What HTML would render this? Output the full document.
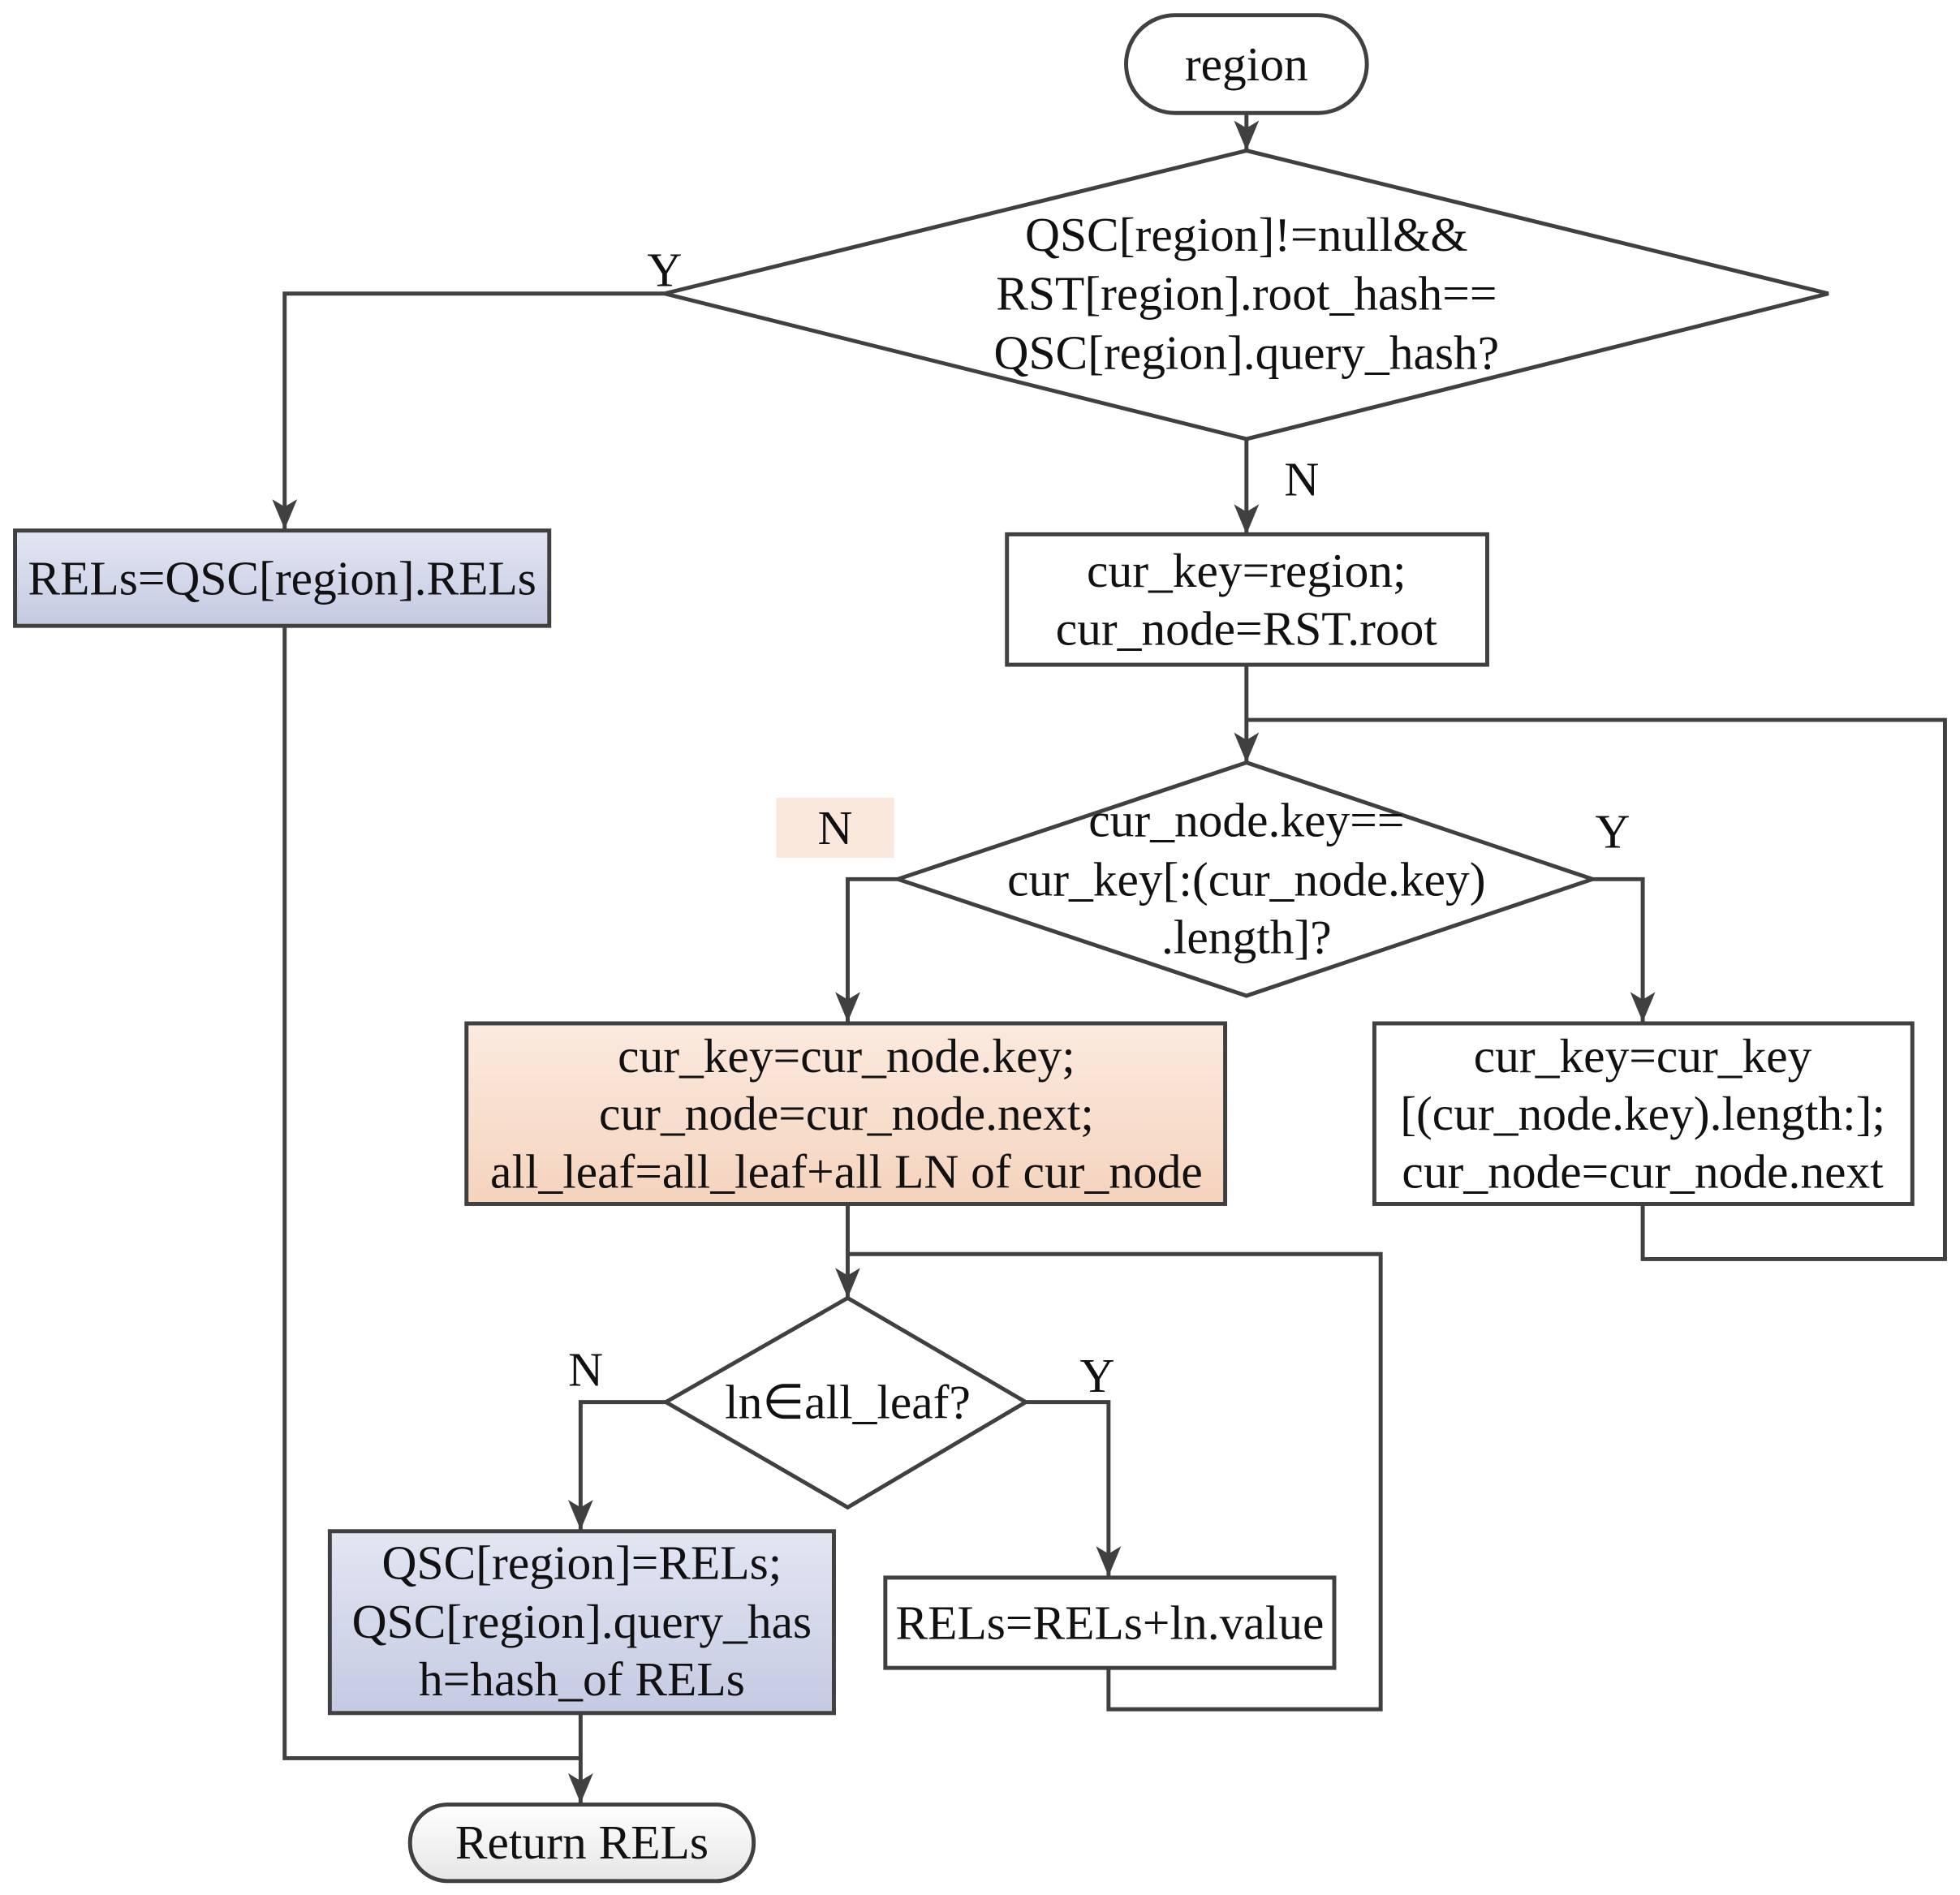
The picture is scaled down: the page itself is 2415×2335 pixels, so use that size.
<!DOCTYPE html>
<html><head><meta charset="utf-8"><style>
html,body{margin:0;padding:0;background:#fff}
svg{display:block}
text{font-family:"Liberation Serif",serif;font-size:38.5px;fill:#111;text-anchor:middle;dominant-baseline:central}
</style></head><body>
<svg width="2415" height="2335" viewBox="0 0 1563 1511" xmlns="http://www.w3.org/2000/svg">
<defs>
<marker id="a" viewBox="0 0 24 20" refX="24" refY="10" markerWidth="24" markerHeight="20" markerUnits="userSpaceOnUse" orient="auto">
<path d="M0,0 L24,10 L0,20 L6,10 Z" fill="#404040"/></marker>
<linearGradient id="gb" x1="0" y1="0" x2="0" y2="1"><stop offset="0" stop-color="#e3e6f2"/><stop offset="1" stop-color="#c4cae2"/></linearGradient>
<linearGradient id="gp" x1="0" y1="0" x2="0" y2="1"><stop offset="0" stop-color="#fbeadf"/><stop offset="1" stop-color="#f5d3bd"/></linearGradient>
<linearGradient id="gw" x1="0" y1="0" x2="0" y2="1"><stop offset="0" stop-color="#ffffff"/><stop offset="1" stop-color="#e6e6e6"/></linearGradient>
</defs>
<g stroke="#404040" stroke-width="3.2" fill="none">
<rect x="898" y="12" width="192" height="78" rx="39" fill="#fff"/>
<line x1="994" y1="90" x2="994" y2="120" marker-end="url(#a)"/>
<polygon points="994,120 1458,234 994,350 530,234" fill="#fff"/>
<polyline points="530,234 227,234 227,422" marker-end="url(#a)"/>
<rect x="12" y="423" width="426" height="76" fill="url(#gb)"/>
<polyline points="227,499 227,1402 463,1402"/>
<line x1="994" y1="350" x2="994" y2="426" marker-end="url(#a)"/>
<rect x="803" y="426" width="383" height="104" fill="#fff"/>
<line x1="994" y1="530" x2="994" y2="608" marker-end="url(#a)"/>
<polyline points="994,574 1551,574 1551,1004 1310,1004 1310,960"/>
<polygon points="994,608 1270,701 994,794 716,701" fill="#fff"/>
<polyline points="716,701 676,701 676,815" marker-end="url(#a)"/>
<polyline points="1270,701 1310,701 1310,815" marker-end="url(#a)"/>
<rect x="372" y="816" width="605" height="144" fill="url(#gp)"/>
<rect x="1096" y="816" width="429" height="144" fill="#fff"/>
<line x1="676" y1="960" x2="676" y2="1035" marker-end="url(#a)"/>
<polyline points="676,1000 1101,1000 1101,1363 884,1363 884,1330"/>
<polygon points="676,1035 818,1118 676,1202 531,1118" fill="#fff"/>
<polyline points="531,1118 463,1118 463,1220" marker-end="url(#a)"/>
<polyline points="818,1118 884,1118 884,1257" marker-end="url(#a)"/>
<rect x="263" y="1221" width="402" height="145" fill="url(#gb)"/>
<rect x="706" y="1258" width="358" height="72" fill="#fff"/>
<line x1="463" y1="1366" x2="463" y2="1438" marker-end="url(#a)"/>
<rect x="327" y="1439" width="274" height="61" rx="30" fill="url(#gw)"/>
</g>
<rect x="619" y="636" width="94" height="48" fill="#fbe8dd"/>
<text x="994" y="51">region</text>
<text x="994" y="187">QSC[region]!=null&amp;&amp;</text>
<text x="994" y="234">RST[region].root_hash==</text>
<text x="994" y="281">QSC[region].query_hash?</text>
<text x="530" y="215">Y</text>
<text x="1038" y="382">N</text>
<text x="225" y="461">RELs=QSC[region].RELs</text>
<text x="994" y="455">cur_key=region;</text>
<text x="994" y="501">cur_node=RST.root</text>
<text x="666" y="660">N</text>
<text x="1286" y="663">Y</text>
<text x="994" y="654">cur_node.key==</text>
<text x="994" y="701">cur_key[:(cur_node.key)</text>
<text x="994" y="747">.length]?</text>
<text x="675" y="842">cur_key=cur_node.key;</text>
<text x="675" y="888">cur_node=cur_node.next;</text>
<text x="675" y="934">all_leaf=all_leaf+all LN of cur_node</text>
<text x="1310" y="842">cur_key=cur_key</text>
<text x="1310" y="888">[(cur_node.key).length:];</text>
<text x="1310" y="934">cur_node=cur_node.next</text>
<text x="676" y="1118">ln∈all_leaf?</text>
<text x="467" y="1092">N</text>
<text x="875" y="1097">Y</text>
<text x="464" y="1246">QSC[region]=RELs;</text>
<text x="464" y="1293">QSC[region].query_has</text>
<text x="464" y="1339">h=hash_of RELs</text>
<text x="885" y="1294">RELs=RELs+ln.value</text>
<text x="464" y="1469">Return RELs</text>
</svg>
</body></html>
